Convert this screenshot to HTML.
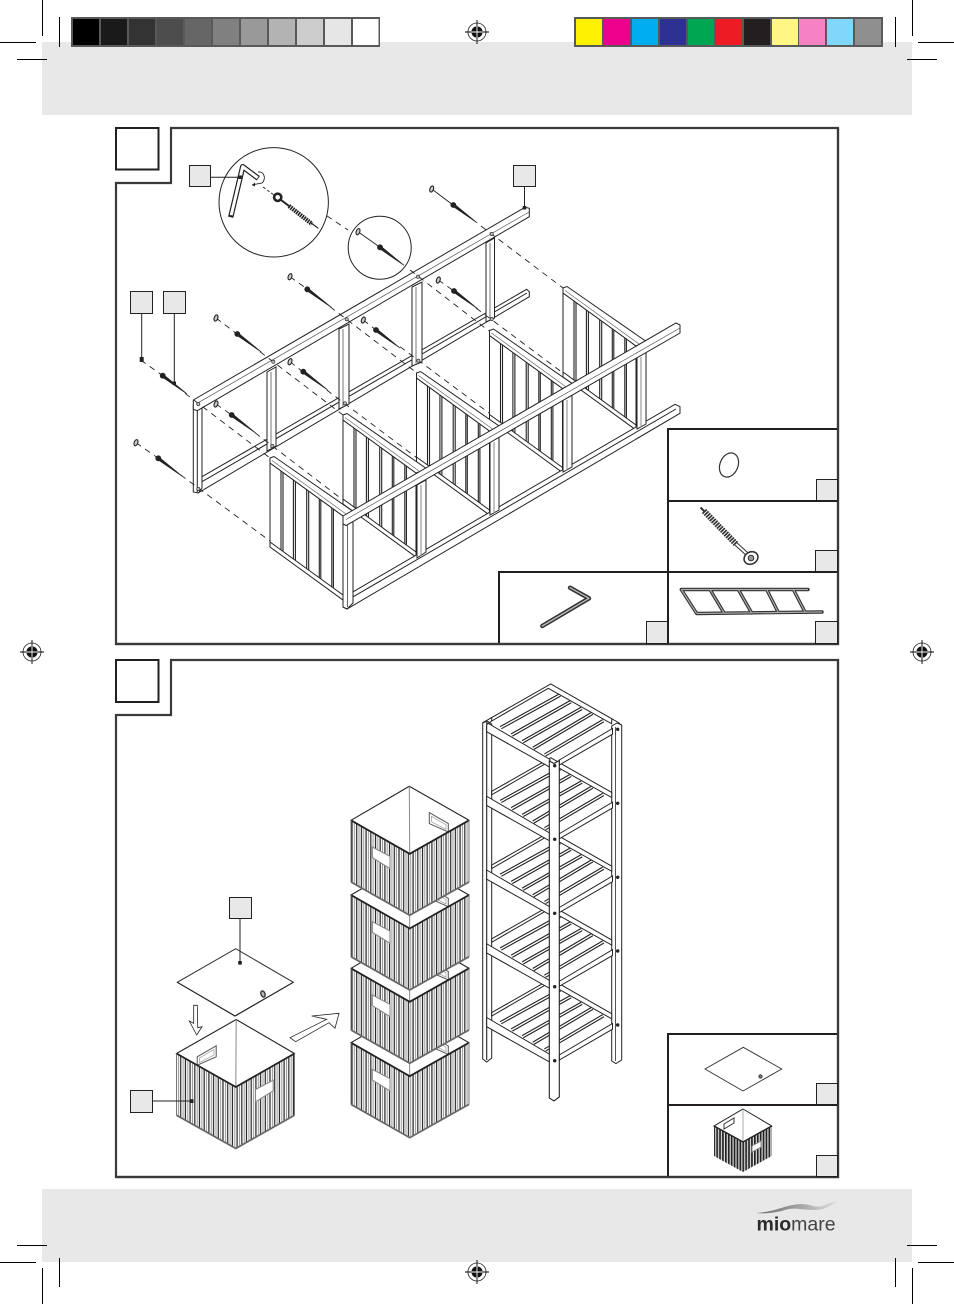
<!DOCTYPE html>
<html><head><meta charset="utf-8"><title>Assembly diagram</title>
<style>html,body{margin:0;padding:0;background:#fff}svg{display:block}</style></head>
<body>
<svg xmlns="http://www.w3.org/2000/svg" width="954" height="1304" viewBox="0 0 954 1304">
<defs>
<pattern id="st" patternUnits="userSpaceOnUse" width="4.7" height="10"><rect width="4.7" height="10" fill="#fff"/><rect x="0.4" width="1.2" height="10" fill="#222"/><rect x="2.8" width="1" height="10" fill="#999"/></pattern>
<pattern id="sm" patternUnits="userSpaceOnUse" width="2.9" height="10"><rect width="2.9" height="10" fill="#ddd"/><rect width="1.7" height="10" fill="#222"/></pattern>
<linearGradient id="sw" x1="0" x2="1" y1="0" y2="0"><stop offset="0" stop-color="#6a6a6a"/><stop offset=".45" stop-color="#9a9a9a"/><stop offset="1" stop-color="#e0e0e0"/></linearGradient>
<g id="reg"><circle r="9" fill="#fff" stroke="#222" stroke-width=".8"/><circle r="5.6" fill="#111"/><path d="M-5.6 0H5.6M0-5.6V5.6" stroke="#fff" stroke-width=".9"/><path d="M-12 0H-5.6M5.6 0H12M0-12V-5.6M0 5.6V12" stroke="#000" stroke-width=".9"/></g>
<ellipse id="w" rx="1.8" ry="3.2" transform="rotate(20)" fill="#ccc" stroke="#222" stroke-width="1.1"/>
<g id="s"><circle r="2.9" fill="#222"/><polygon points="-0.8,1.1 0.8,-1.1 24,18" fill="#222" stroke="#222" stroke-width=".7"/></g>
<g id="sec" stroke="#222" stroke-width="1" fill="#fff">
<polygon points="0,5 73,58 73,142 0,88"/>
<path fill="none" d="M11,13V93M13,14V95M23.4,22V103M25.4,23V104M36.7,32V112M38.7,33V114M49.3,41V121M50.8,42V122M61.8,50V130M63.4,51V132" stroke-width="1.1"/>
<polygon points="0,84 73,137 73,142 0,89"/>
<polygon points="0,0 4,-1.5 84,54 73,58 0,5"/>
<path d="M2,2.5L76,56" stroke="#666" stroke-width=".7" fill="none"/>
</g>
<g id="box">
<polygon points="0,0 58.3,-34 118,0 58.7,33.5" fill="#fff" stroke="#222" stroke-width="1.1"/>
<polygon points="78.3,-7.7 97.3,3.3 97.3,11.7 78.3,3.3" fill="#fff" stroke="#555" stroke-width="1"/>
<polygon points="80.5,-4 95,4.5 95,9 80.5,1.5" fill="#fff" stroke="#999" stroke-width=".7"/>
<path d="M58.3-34L58.7 33.5" stroke="#888" stroke-width="1"/>
<polygon points="0,0 58.7,33.5 58.7,95 0,61.7" fill="url(#st)"/>
<polygon points="58.7,33.5 118,0 118,61.7 58.7,95" fill="url(#st)"/>
<polygon points="21.3,26.7 39,36 39,48.3 21.3,37.3" fill="#fff" stroke="#888" stroke-width="1.1"/>
<polyline points="0,0 58.7,33.5 118,0" fill="none" stroke="#222" stroke-width="1.8"/>
<polyline points="0,61.7 58.7,95 118,61.7" fill="none" stroke="#666" stroke-width="1.7"/>
<path d="M0,0V61.7M118,0V61.7" stroke="#777" stroke-width="1" fill="none"/>
</g>
<g id="shelf" stroke="#222" stroke-width="1" fill="#fff">
<g stroke-width="3.6" fill="none"><path d="M500.7,727.7L560,695M511.7,735L570.7,701.7M522.7,741.7L581.7,708.3M533.3,748.3L592.3,713.3M545,755L603.3,720.7"/></g>
<g stroke="#fff" stroke-width="1.4" fill="none"><path d="M500.7,727.7L560,695M511.7,735L570.7,701.7M522.7,741.7L581.7,708.3M533.3,748.3L592.3,713.3M545,755L603.3,720.7"/></g>
<polygon points="491.7,717.6 550.7,684 611.7,718.7 611.7,723.8 548.3,688.3 491.7,721"/>
<polygon points="486.7,722.5 550,759.5 550,767.3 486.7,731.7"/>
<polygon points="559.3,760 612.5,728.5 612.5,734.2 559.3,765"/>
</g>
</defs>

<rect width="954" height="1304" fill="#fff"/>
<rect x="42" y="42" width="870" height="73" fill="#e8e8e8"/>
<rect x="42" y="1189" width="870" height="73" fill="#e8e8e8"/>

<!-- colour bars -->
<g>
<rect x="71" y="17" width="309" height="30" fill="#58595b"/>
<rect x="73" y="19" width="26" height="26" fill="#000"/><rect x="101" y="19" width="26" height="26" fill="#1a1a1a"/><rect x="129" y="19" width="26" height="26" fill="#333"/><rect x="157" y="19" width="26" height="26" fill="#4d4d4d"/><rect x="185" y="19" width="26" height="26" fill="#666"/><rect x="213" y="19" width="26" height="26" fill="#808080"/><rect x="241" y="19" width="26" height="26" fill="#999"/><rect x="269" y="19" width="26" height="26" fill="#b3b3b3"/><rect x="297" y="19" width="26" height="26" fill="#ccc"/><rect x="325" y="19" width="26" height="26" fill="#e6e6e6"/><rect x="353" y="19" width="25.5" height="26" fill="#fff"/>
<rect x="574" y="17" width="309" height="30" fill="#58595b"/>
<rect x="576" y="19" width="26" height="26" fill="#fff200"/><rect x="604" y="19" width="26" height="26" fill="#ec008c"/><rect x="632" y="19" width="26" height="26" fill="#00aeef"/><rect x="660" y="19" width="26" height="26" fill="#2e3192"/><rect x="688" y="19" width="26" height="26" fill="#00a651"/><rect x="716" y="19" width="26" height="26" fill="#ed1c24"/><rect x="744" y="19" width="26" height="26" fill="#231f20"/><rect x="772" y="19" width="26" height="26" fill="#fff685"/><rect x="799" y="19" width="26" height="26" fill="#f682c5"/><rect x="827" y="19" width="26" height="26" fill="#80d7fa"/><rect x="855" y="19" width="26" height="26" fill="#8f8f8f"/>
</g>

<!-- crop marks -->
<path stroke="#000" stroke-width="1" fill="none" d="M42.5 0V36M0 42.5H36M59.5 17V47M17 59.5H47M912.5 0V36M918 42.5H954M895.5 17V47M907 59.5H937M907 1245.5H937M895.5 1258V1287M918 1262.5H954M912.5 1268V1304M17 1245.5H47M59.5 1258V1287M0 1262.5H36M42.5 1268V1304"/>
<use href="#reg" x="477" y="32"/><use href="#reg" x="32" y="652"/><use href="#reg" x="922" y="652"/><use href="#reg" x="477" y="1272"/>

<!-- PANEL 1 frame -->
<path d="M171 128H838V644H116V183H171Z" fill="#fff" stroke="#3a3a3a" stroke-width="2.2"/>
<rect x="116" y="128" width="42.5" height="41.5" fill="#fff" stroke="#231f20" stroke-width="2"/>

<!-- back ladder -->
<g stroke="#222" stroke-width="1" fill="#fff">
<polygon points="202,476.7 526.7,289.3 529.3,291.7 529.3,296.7 198,493 193.3,490"/>
<path d="M202,481.7L527,293" fill="none"/>
<polygon points="267,372 276,367 276,446 267,451"/><path d="M271,372V449" stroke="#777"/>
<polygon points="339,329 349,324 349,404 339,409"/><path d="M343,329V406" stroke="#777"/>
<polygon points="412,287 422,282 422,362 412,366"/><path d="M416,287V364" stroke="#777"/>
<polygon points="486,243 494.5,238 494.5,318 486,322"/><path d="M490,243V320" stroke="#777"/>
<polygon points="193.3,405 202,405 202,488 198.3,493 193.3,492"/><path d="M197.3,408V492" stroke="#222"/>
<polygon points="193.3,400 525,207.3 529.3,208.3 529.3,216.7 197.3,410.7 193.3,409.3"/>
<path d="M197,403.4L529,212" fill="none" stroke="#555" stroke-width=".7"/>
</g>

<!-- dashes -->
<g stroke="#222" stroke-width=".9" stroke-dasharray="6 5" fill="none">
<path d="M481,226L563,288"/>
<path d="M410,270L489,331"/>
<path d="M476,308L563,373"/>
<path d="M438.3,280L454,291"/>
<path d="M330,306.7L417,373"/>
<path d="M290,276.7L307,289"/>
<path d="M400,346.7L489,413"/>
<path d="M363.3,320L376,330"/>
<path d="M260,351.7L343,415"/>
<path d="M216,318L237,334"/>
<path d="M326.7,390L417,458"/>
<path d="M290,361.7L303,372"/>
<path d="M185,393.3L270,458"/>
<path d="M140.7,360L162.7,375.7"/>
<path d="M255,432.7L343,500"/>
<path d="M216,404L231.7,415"/>
<path d="M180.7,475L270,541"/>
<path d="M136,442.7L158.3,458.3"/>
<path d="M326.7,215.7L348,230"/>
</g>
<path d="M431.7,189L453,205" stroke="#222" stroke-width=".9"/>

<!-- screws -->
<use href="#s" x="453.3" y="205"/><use href="#s" x="454" y="291"/><use href="#s" x="307.3" y="289.3"/><use href="#s" x="376" y="330"/><use href="#s" x="237.3" y="334"/><use href="#s" x="303.3" y="371.7"/><use href="#s" x="162.7" y="375.7"/><use href="#s" x="231.7" y="415"/><use href="#s" x="158.3" y="458.3"/>
<!-- washers -->
<g transform="translate(431.7 189)"><use href="#w"/></g>
<g transform="translate(438.3 280)"><use href="#w"/></g>
<g transform="translate(290 276.7)"><use href="#w"/></g>
<g transform="translate(363.3 320)"><use href="#w"/></g>
<g transform="translate(216 318)"><use href="#w"/></g>
<g transform="translate(290 361.7)"><use href="#w"/></g>
<g transform="translate(216 404)"><use href="#w"/></g>
<g transform="translate(136 442.7)"><use href="#w"/></g>
<!-- holes -->
<g fill="#bbb" stroke="#333" stroke-width=".7"><circle cx="491.7" cy="234" r="1.6"/><circle cx="418" cy="276.7" r="1.6"/><circle cx="346.7" cy="319.3" r="1.6"/><circle cx="273.3" cy="361.7" r="1.6"/><circle cx="198.3" cy="404" r="1.6"/><circle cx="491.7" cy="319" r="1.6"/><circle cx="418.3" cy="360.7" r="1.6"/><circle cx="345" cy="403.3" r="1.6"/><circle cx="272.3" cy="446" r="1.6"/><circle cx="198.3" cy="489" r="1.6"/></g>

<!-- sections -->
<use href="#sec" x="563" y="288"/>
<use href="#sec" x="489.5" y="330.5"/>
<use href="#sec" x="416.5" y="373"/>
<use href="#sec" x="343" y="415"/>
<use href="#sec" x="270" y="458"/>

<!-- front ladder -->
<g stroke="#222" stroke-width="1" fill="#fff">
<polygon points="353.3,591.7 675,404.3 680,406.7 680,413.3 347,609 343,607"/>
<path d="M353.3,596.7L676,409" fill="none"/>
<polygon points="417,485 426,480 426,552 417,558"/><path d="M421,485V556" stroke="#888"/>
<polygon points="490,442 499,437 499,510 490,515"/><path d="M494,442V513" stroke="#888"/>
<polygon points="563,400 572,395 572,467 563,472"/><path d="M567,400V470" stroke="#888"/>
<polygon points="637,357 646,352 646,424 637,429"/><path d="M641,357V427" stroke="#888"/>
<polygon points="343,522 353,522 353,603 347,609 343,607"/><path d="M347.5,524V607" stroke="#666"/>
<polygon points="343,516 676,323 680,325 680,333 346,525.5 343,524"/>
<path d="M346,519.5L680,328" fill="none" stroke="#555" stroke-width=".7"/>
</g>

<!-- callout circles -->
<circle cx="273.7" cy="202.3" r="54.7" fill="#fff" stroke="#222" stroke-width="1"/>
<circle cx="379.7" cy="247.7" r="31.5" fill="#fff" stroke="#222" stroke-width="1"/>
<path d="M358,231.7L380,247.3" stroke="#222" stroke-width=".9"/>
<g transform="translate(358 231.7)"><use href="#w"/></g>
<use href="#s" x="380" y="247.3"/>
<polyline points="230.7,217.3 242.7,166.7 258.3,178.3" fill="none" stroke="#222" stroke-width="5.4" stroke-linejoin="round"/>
<polyline points="231.2,215.2 242.7,166.7 257.6,177.8" fill="none" stroke="#fff" stroke-width="3" stroke-linejoin="round"/>
<path d="M258,172C265,171 266,180 262,183L252,185" fill="none" stroke="#222" stroke-width=".9"/>
<path d="M252,185l3,-2.5v4z" fill="#222"/>
<path d="M263,187L274,195" stroke="#222" stroke-width=".9" stroke-dasharray="3 2"/>
<circle cx="277.7" cy="197.3" r="3.6" fill="#fff" stroke="#222" stroke-width="2.6"/>
<path d="M281,200L289,206" stroke="#222" stroke-width="2"/>
<path d="M289,206L312,224" stroke="#222" stroke-width="4.4" stroke-dasharray="1.6 .8"/>
<path d="M311,223L318.3,228.3" stroke="#222" stroke-width="1.2"/>

<!-- leaders & labels -->
<g fill="#e8e8e8" stroke="#222" stroke-width="1">
<path d="M210.7,177.3H240M524.5,186V208M141.7,313V360M174.3,313V383" fill="none"/>
<rect x="189.5" y="165.5" width="21" height="21"/>
<rect x="513.5" y="165.5" width="22" height="21"/>
<rect x="130.5" y="291.5" width="22" height="22"/>
<rect x="163.5" y="291.5" width="22" height="22"/>
</g>
<g fill="#222"><rect x="238.5" y="175.5" width="3.5" height="3.5"/><rect x="522.7" y="206" width="3.5" height="3.5"/><rect x="139.7" y="357" width="4" height="5"/><rect x="172.5" y="381.5" width="3.5" height="3.5"/></g>

<!-- panel 1 insets -->
<path d="M838 429H668V644M668 501H838M499 644V572H838" fill="none" stroke="#231f20" stroke-width="2"/>
<path d="M838,128V644H116" fill="none" stroke="#3a3a3a" stroke-width="2.2"/>
<g fill="#e8e8e8" stroke="#222" stroke-width="1"><rect x="816.5" y="479.5" width="21" height="21"/><rect x="815.5" y="550.5" width="22" height="21"/><rect x="646.5" y="621.5" width="21" height="22"/><rect x="815.5" y="621.5" width="22" height="22"/></g>
<ellipse cx="729" cy="465" rx="9" ry="12.5" transform="rotate(22 729 465)" fill="none" stroke="#333" stroke-width="1.2"/>
<path d="M704,511L736,544" stroke="#333" stroke-width="6" stroke-dasharray="1.7 .9"/>
<path d="M700.5,507.5L705,512" stroke="#333" stroke-width="2"/>
<path d="M736,544L747,554" stroke="#333" stroke-width="4"/><path d="M736,544L747,554" stroke="#fff" stroke-width="2"/>
<ellipse cx="751" cy="558" rx="7.2" ry="6" transform="rotate(-30 751 558)" fill="#fff" stroke="#333" stroke-width="1.6"/>
<circle cx="751" cy="558" r="2.8" fill="#999" stroke="#333" stroke-width="1"/>
<polyline points="570,587.7 589,598.3 542.3,626" fill="none" stroke="#333" stroke-width="4.4" stroke-linejoin="round" stroke-linecap="round"/>
<polyline points="570,587.7 589,598.3 542.3,626" fill="none" stroke="#bbb" stroke-width="1.4" stroke-linejoin="round" stroke-linecap="round"/>
<g fill="none" stroke="#333" stroke-width="3.4" stroke-linecap="round"><path d="M681.3,589.5H808M697,613.5L822,612M681.3,589.5L696.7,613.5M710,589.5L724,613M738.3,589.5L751.7,613M766.7,589.5L778.3,612.5M793.3,589.5L805,612"/></g>
<g fill="none" stroke="#aaa" stroke-width="1.2"><path d="M681.3,589.5H808M697,613.5L822,612M681.3,589.5L696.7,613.5M710,589.5L724,613M738.3,589.5L751.7,613M766.7,589.5L778.3,612.5M793.3,589.5L805,612"/></g>

<!-- PANEL 2 frame -->
<path d="M171 660H838V1177H116V715H171Z" fill="#fff" stroke="#3a3a3a" stroke-width="2.2"/>
<rect x="116" y="660" width="42.5" height="42" fill="#fff" stroke="#231f20" stroke-width="2"/>

<!-- lid + box left -->
<polygon points="235.7,948.7 293.3,982.3 235,1016 177.3,982.3" fill="#fff" stroke="#333" stroke-width="1"/>
<path d="M177.3,982.3L235,1016L293.3,982.3" fill="none" stroke="#222" stroke-width="1.1"/>
<ellipse cx="263" cy="994" rx="2" ry="3.2" transform="rotate(-20 263 994)" fill="#bbb" stroke="#333" stroke-width="1.4"/>
<path d="M240,918.5V963" stroke="#222" stroke-width="1"/><rect x="238.2" y="961" width="3.6" height="3.6" fill="#222"/>
<rect x="229.5" y="897.5" width="22" height="21" fill="#e8e8e8" stroke="#222"/>
<polygon points="193.7,1005.3 197.3,1005.3 197.7,1027.7 202,1026.7 196.7,1035 189.3,1021 193.7,1023.3" fill="#fff" stroke="#222" stroke-width=".8"/>
<polygon points="290,1037.7 326.7,1019.3 311.7,1016 339,1013.3 335,1028.3 329,1022.7 295.7,1041.7" fill="#fff" stroke="#222" stroke-width=".8"/>
<use href="#box" transform="translate(294.5 1053.5) scale(-1 1)"/>
<path d="M152.5,1101H191" stroke="#222"/><rect x="189.7" y="1099.2" width="3.8" height="3.8" fill="#222"/>
<rect x="130.5" y="1090.5" width="22" height="22" fill="#e8e8e8" stroke="#222"/>

<!-- box stack -->
<use href="#box" x="351" y="1042.7"/>
<use href="#box" x="351" y="968.3"/>
<use href="#box" x="351" y="895"/>
<use href="#box" x="351" y="820.3"/>

<!-- shelf unit -->
<g stroke="#222" stroke-width="1" fill="#fff">
<polygon points="482.7,723 487,721 491.7,724 491.7,1058 486.7,1062 482.7,1059"/><path d="M486.7,726V1060" fill="none" stroke-width="1.1"/>
<polygon points="611.7,726 617,723 621.7,725 621.7,1060 616,1063.5 611.7,1061"/><path d="M615.5,727V1061" fill="none" stroke="#555"/>
</g>
<use href="#shelf" y="295"/>
<use href="#shelf" y="221.25"/>
<use href="#shelf" y="147.5"/>
<use href="#shelf" y="73.75"/>
<use href="#shelf"/>
<path d="M482.7,722.7L491.7,717.6M611.7,718.7L620,723.5M487,724.5L491.7,721" fill="none" stroke="#222" stroke-width="1"/>
<polygon points="549.3,761 554,763.5 559.3,760.5 559.3,1097 554,1101 549.3,1098" fill="#fff" stroke="#222" stroke-width="1.1"/>
<g fill="#222"><circle cx="554.7" cy="765.7" r="1.7"/><circle cx="554.7" cy="839.3" r="1.7"/><circle cx="554.7" cy="913.3" r="1.7"/><circle cx="554.7" cy="986.7" r="1.7"/><circle cx="554.7" cy="1060.7" r="1.7"/><circle cx="617.7" cy="729.3" r="1.7"/><circle cx="617.7" cy="803.3" r="1.7"/><circle cx="617.7" cy="877.3" r="1.7"/><circle cx="617.7" cy="951" r="1.7"/><circle cx="617.7" cy="1025" r="1.7"/></g>

<!-- panel 2 insets -->
<path d="M838 1034H668V1177M668 1105H838" fill="none" stroke="#231f20" stroke-width="2"/>
<path d="M838,660V1177H116" fill="none" stroke="#3a3a3a" stroke-width="2.2"/>
<g fill="#e8e8e8" stroke="#222"><rect x="816.5" y="1083.5" width="21" height="21"/><rect x="816.5" y="1155.5" width="21" height="21"/></g>
<polygon points="743.3,1047.3 781.7,1069 743,1091 705,1069" fill="#fff" stroke="#333" stroke-width=".9"/>
<circle cx="760.5" cy="1076.5" r="1.7" fill="#777" stroke="#333" stroke-width=".8"/>
<polygon points="743,1109 771.7,1126 743,1142 714,1126" fill="#fff" stroke="#222" stroke-width="1"/>
<path d="M743,1109V1142" stroke="#999" stroke-width=".8"/>
<polygon points="724,1124 734,1118 734,1123 724,1129" fill="#fff" stroke="#333" stroke-width="1"/>
<polygon points="714,1126 743,1142 743,1172 714,1156" fill="url(#sm)"/>
<polygon points="743,1142 771.7,1126 771.7,1156 743,1172" fill="url(#sm)"/>
<polygon points="752,1146 761,1141 761,1147 752,1152" fill="#fff" stroke="#888" stroke-width="1"/>
<polyline points="714,1126 743,1142 771.7,1126" fill="none" stroke="#222" stroke-width="1.4"/>

<!-- logo -->
<path d="M756,1213C775,1212 785,1205 800,1204C812,1204 815,1209 825,1205C830,1203 835,1201 838,1201C832,1205 825,1210 815,1210C800,1210 795,1207 785,1210C775,1213 765,1214 756,1213Z" fill="url(#sw)"/>
<text x="756.5" y="1230.5" font-family="'Liberation Sans',sans-serif" font-size="19.5" fill="#2a2a2a"><tspan font-weight="bold">mio</tspan><tspan fill="#444">mare</tspan></text>
</svg>
</body></html>
